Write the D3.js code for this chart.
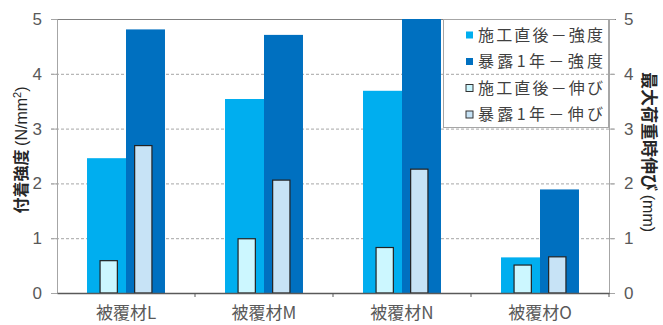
<!DOCTYPE html>
<html>
<head>
<meta charset="utf-8">
<script src="https://cdn.jsdelivr.net/npm/d3@7/dist/d3.min.js"></script>
<style>
  html, body { margin: 0; padding: 0; background: #fff; }
  svg { display: block; }
  text { font-family: "Liberation Sans", Arial, "Noto Sans CJK JP", sans-serif; }
  .jp { font-family: "Noto Sans CJK JP", "Noto Sans", sans-serif; }
</style>
</head>
<body>
<script>
// Coating materials and measured values
const categories = ["被覆材L", "被覆材M", "被覆材N", "被覆材O"];
const strengthInitial = [2.46, 3.54, 3.69, 0.65];   // 施工直後－強度 (N/mm²)
const strengthExposed = [4.81, 4.71, 5.00, 1.89];   // 暴露1年－強度 (N/mm²)
const elongInitial   = [0.59, 0.99, 0.83, 0.51];    // 施工直後－伸び (mm)
const elongExposed   = [2.69, 2.06, 2.26, 0.66];    // 暴露1年－伸び (mm)
const leftTicks  = [0, 1, 2, 3, 4, 5];
const rightTicks = [0, 1, 2, 3, 4, 5];
const seriesNames = ["施工直後－強度", "暴露1年－強度", "施工直後－伸び", "暴露1年－伸び"];
const seriesColors = ["#00aeef", "#0070c0", "#ccf7ff", "#c7e3f6"];

const W = 663, H = 325;
const m = { left: 57, right: 609, top: 19, bottom: 293 };

const svg = d3.select("body").append("svg").attr("width", W).attr("height", H);

const x = d3.scaleBand().domain(categories).range([m.left, m.right]).padding(0);
const yL = d3.scaleLinear().domain([0, 5]).range([m.bottom, m.top]);
const yR = d3.scaleLinear().domain([0, 5]).range([m.bottom, m.top]);

// strength bars (primary axis) and elongation bars (secondary axis)
const xs = d3.scaleBand().domain(["a", "b"]).range([0, x.bandwidth()]).paddingInner(0).paddingOuter(0.77);
const xe = d3.scaleBand().domain(["a", "b"]).range([0, x.bandwidth()]).paddingInner(0.5).paddingOuter(1.245);

// dashed gridlines
svg.append("g").selectAll("line").data(leftTicks.filter(d => d > 0 && d < 5)).join("line")
  .attr("x1", m.left - 6).attr("x2", m.right + 7)
  .attr("y1", d => yL(d) + 0.5).attr("y2", d => yL(d) + 0.5)
  .attr("stroke", "#a6a6a6").attr("stroke-width", 1).attr("stroke-dasharray", "3,2");

// top frame line
svg.append("line").attr("x1", m.left - 6).attr("x2", m.right + 7)
  .attr("y1", yL(5) + 0.5).attr("y2", yL(5) + 0.5).attr("stroke", "#808080");

const groups = svg.append("g").selectAll("g").data(categories).join("g")
  .attr("transform", d => `translate(${x(d)},0)`);

groups.append("rect").attr("x", xs("a")).attr("width", xs.bandwidth())
  .attr("y", (d, i) => yL(strengthInitial[i])).attr("height", (d, i) => yL(0) - yL(strengthInitial[i]))
  .attr("fill", seriesColors[0]);
groups.append("rect").attr("x", xs("b")).attr("width", xs.bandwidth())
  .attr("y", (d, i) => yL(strengthExposed[i])).attr("height", (d, i) => yL(0) - yL(strengthExposed[i]))
  .attr("fill", seriesColors[1]);
groups.append("rect").attr("x", xe("a")).attr("width", xe.bandwidth())
  .attr("y", (d, i) => yR(elongInitial[i])).attr("height", (d, i) => yR(0) - yR(elongInitial[i]))
  .attr("fill", seriesColors[2]).attr("stroke", "#222").attr("stroke-width", 1.2);
groups.append("rect").attr("x", xe("b")).attr("width", xe.bandwidth())
  .attr("y", (d, i) => yR(elongExposed[i])).attr("height", (d, i) => yR(0) - yR(elongExposed[i]))
  .attr("fill", seriesColors[3]).attr("stroke", "#222").attr("stroke-width", 1.2);

// left axis
const axL = svg.append("g").attr("transform", `translate(${m.left},0)`)
  .call(d3.axisLeft(yL).tickValues(leftTicks).tickFormat(d3.format("d")).tickSize(6).tickPadding(9));
axL.select(".domain").attr("stroke", "#a6a6a6");
axL.selectAll(".tick line").attr("stroke", "#a6a6a6");
axL.selectAll(".tick text").attr("fill", "#595959").attr("font-size", 17);

// right axis
const axR = svg.append("g").attr("transform", `translate(${m.right},0)`)
  .call(d3.axisRight(yR).tickValues(rightTicks).tickFormat(d3.format("d")).tickSize(6).tickPadding(9));
axR.select(".domain").attr("stroke", "#a6a6a6");
axR.selectAll(".tick line").attr("stroke", "#a6a6a6");
axR.selectAll(".tick text").attr("fill", "#595959").attr("font-size", 17);

// bottom axis: ticks at group boundaries
const axB = svg.append("g").attr("transform", `translate(0,${m.bottom})`)
  .call(d3.axisBottom(x).tickSize(0).tickPadding(14));
axB.select(".domain").attr("stroke", "#595959").attr("stroke-width", 1.3);
axB.selectAll(".tick text").attr("class", "jp").attr("fill", "#595959").attr("font-size", 17);
axB.append("g").selectAll("line").data(categories.slice(1).concat(["end"])).join("line")
  .attr("x1", d => d === "end" ? m.right : x(d)).attr("x2", d => d === "end" ? m.right : x(d))
  .attr("y1", 0).attr("y2", 4).attr("stroke", "#595959");

// axis titles
const tl = svg.append("text").attr("transform", `translate(27,150) rotate(-90)`)
  .attr("text-anchor", "middle").attr("fill", "#262626");
tl.append("tspan").attr("class", "jp").attr("font-size", 16).attr("font-weight", "bold").text("付着強度 ");
tl.append("tspan").attr("font-size", 16).text("(N/mm");
tl.append("tspan").attr("font-size", 11).attr("dy", -6).text("2");
tl.append("tspan").attr("font-size", 16).attr("dy", 6).text(")");

const tr = svg.append("text").attr("transform", `translate(643,152) rotate(90)`)
  .attr("text-anchor", "middle").attr("fill", "#262626");
tr.append("tspan").attr("class", "jp").attr("font-size", 17).attr("font-weight", "bold").text("最大荷重時伸び ");
tr.append("tspan").attr("font-size", 16).text("(mm)");

// legend
const lg = svg.append("g");
lg.append("rect").attr("x", 443.5).attr("y", 19.5).attr("width", 165).attr("height", 108)
  .attr("fill", "none").attr("stroke", "#a6a6a6");
const rows = lg.selectAll("g.row").data(seriesNames).join("g").attr("class", "row")
  .attr("transform", (d, i) => `translate(0,${35 + i * 26.5})`);
rows.append("rect").attr("x", 466).attr("y", -3.5).attr("width", 7).attr("height", 7)
  .attr("fill", (d, i) => seriesColors[i])
  .attr("stroke", (d, i) => i >= 2 ? "#333" : "none").attr("stroke-width", 1);
rows.append("text").attr("class", "jp").attr("x", 478).attr("dy", "0.36em")
  .attr("font-size", 16).attr("fill", "#404040")
  .attr("textLength", 125).attr("lengthAdjust", "spacing").text(d => d);
</script>
</body>
</html>
